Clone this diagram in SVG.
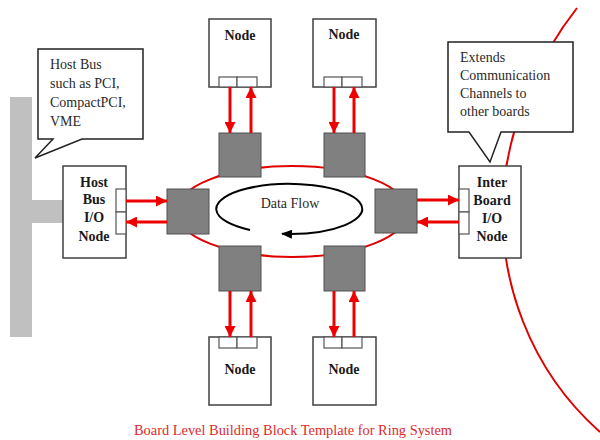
<svg xmlns="http://www.w3.org/2000/svg" width="600" height="440" viewBox="0 0 600 440">
<style>
.box{fill:#fff;stroke:#404040;stroke-width:1.5}
.port{fill:#fff;stroke:#555;stroke-width:1.2}
.sw{fill:#808080;stroke:#505050;stroke-width:1}
.bus{fill:#c0c0c0}
.lbl{font-family:"Liberation Serif","Times New Roman",serif;font-size:14px;font-weight:bold;fill:#1a1a1a;text-anchor:middle}
.note{font-family:"Liberation Serif","Times New Roman",serif;font-size:14px;fill:#2a2a2a}
.arr{stroke:#ee0000;stroke-width:3;fill:none;marker-end:url(#rh)}
.ring{stroke:#e00000;stroke-width:2;fill:none}
.call{fill:#fff;stroke:#222;stroke-width:1.5}
</style>
<defs>
<marker id="rh" markerUnits="userSpaceOnUse" markerWidth="11" markerHeight="11" refX="10" refY="5" orient="auto" viewBox="0 0 10 10">
<path d="M0,0 L10,5 L0,10 z" fill="#ee0000"/>
</marker>
<marker id="bh" markerUnits="userSpaceOnUse" markerWidth="11" markerHeight="9" refX="10" refY="4.5" orient="auto" viewBox="0 0 11 9">
<path d="M0,0 L11,4.5 L0,9 z" fill="#000"/>
</marker>
</defs>
<rect width="600" height="440" fill="#fff"/>

<!-- big red boundary curve -->
<path class="ring" d="M577,8 C540,55 510,120 503,190 C497,280 530,370 600,432"/>

<!-- host bus -->
<g id="hostbus">
<rect class="bus" x="10" y="97" width="22" height="240"/>
<rect class="bus" x="32" y="200" width="31" height="23"/>
</g>

<!-- ring -->
<g id="ring">
<ellipse class="ring" cx="292" cy="211.5" rx="116" ry="45.5"/>
</g>

<!-- data flow -->
<g id="dataflow">
<path d="M250,230 A73,25 0 1 1 282,233.8" fill="none" stroke="#000" stroke-width="2" marker-end="url(#bh)"/>
<text x="290" y="208" font-family="Liberation Serif, Times New Roman, serif" font-size="14" fill="#2a2a2a" text-anchor="middle">Data Flow</text>
</g>

<!-- switches -->
<g id="switches">
<rect id="sw-tl" class="sw" x="219" y="133" width="42" height="44"/>
<rect id="sw-tr" class="sw" x="324" y="133" width="41" height="44"/>
<rect id="sw-l" class="sw" x="167" y="189" width="42" height="45"/>
<rect id="sw-r" class="sw" x="375" y="189" width="42" height="44"/>
<rect id="sw-bl" class="sw" x="219" y="246" width="42" height="45"/>
<rect id="sw-br" class="sw" x="324" y="246" width="41" height="45"/>
</g>

<!-- nodes -->
<g id="node-tl">
<rect class="box" x="209" y="19" width="62" height="68"/>
<rect class="port" x="219" y="77" width="18" height="10"/>
<rect class="port" x="237" y="77" width="20" height="10"/>
<text class="lbl" x="240" y="40">Node</text>
</g>
<g id="node-tr">
<rect class="box" x="313" y="19" width="63" height="68"/>
<rect class="port" x="324" y="77" width="18" height="10"/>
<rect class="port" x="342" y="77" width="20" height="10"/>
<text class="lbl" x="344" y="39">Node</text>
</g>
<g id="node-bl">
<rect class="box" x="209" y="337" width="62" height="68"/>
<rect class="port" x="219" y="337" width="18" height="11"/>
<rect class="port" x="237" y="337" width="20" height="11"/>
<text class="lbl" x="240" y="374">Node</text>
</g>
<g id="node-br">
<rect class="box" x="313" y="337" width="63" height="68"/>
<rect class="port" x="324" y="337" width="18" height="11"/>
<rect class="port" x="342" y="337" width="20" height="11"/>
<text class="lbl" x="344" y="374">Node</text>
</g>
<g id="node-host">
<rect class="box" x="63" y="166" width="63" height="92"/>
<rect class="port" x="116" y="189" width="10" height="23"/>
<rect class="port" x="116" y="212" width="10" height="22"/>
<text class="lbl" x="94" y="187">Host</text>
<text class="lbl" x="94" y="204">Bus</text>
<text class="lbl" x="94" y="222">I/O</text>
<text class="lbl" x="94" y="241">Node</text>
</g>
<g id="node-inter">
<rect class="box" x="459" y="166" width="62" height="92"/>
<rect class="port" x="459" y="189" width="10" height="23"/>
<rect class="port" x="459" y="212" width="10" height="22"/>
<text class="lbl" x="492" y="187">Inter</text>
<text class="lbl" x="492" y="205">Board</text>
<text class="lbl" x="492" y="223">I/O</text>
<text class="lbl" x="492" y="241">Node</text>
</g>

<!-- callouts -->
<g id="callout-host">
<path class="call" d="M38,49 H143 V139 H82 L35,158 L53,139 H38 Z"/>
<text class="note" x="50" y="69">Host Bus</text>
<text class="note" x="50" y="88">such as PCI,</text>
<text class="note" x="50" y="107">CompactPCI,</text>
<text class="note" x="50" y="126">VME</text>
</g>
<g id="callout-inter">
<path class="call" d="M448,42 H573 V132 H501 L490,162 L469,132 H448 Z"/>
<text class="note" x="460" y="62">Extends</text>
<text class="note" x="460" y="80">Communication</text>
<text class="note" x="460" y="98">Channels to</text>
<text class="note" x="460" y="116">other boards</text>
</g>

<!-- connectors -->
<g id="connectors">
<line class="arr" x1="230" y1="87" x2="230" y2="133"/>
<line class="arr" x1="251" y1="133" x2="251" y2="87"/>
<line class="arr" x1="334" y1="87" x2="334" y2="133"/>
<line class="arr" x1="354" y1="133" x2="354" y2="87"/>
<line class="arr" x1="230" y1="291" x2="230" y2="337"/>
<line class="arr" x1="251" y1="337" x2="251" y2="291"/>
<line class="arr" x1="334" y1="291" x2="334" y2="337"/>
<line class="arr" x1="354" y1="337" x2="354" y2="291"/>
<line class="arr" x1="126" y1="201" x2="167" y2="201"/>
<line class="arr" x1="167" y1="222" x2="126" y2="222"/>
<line class="arr" x1="417" y1="200" x2="459" y2="200"/>
<line class="arr" x1="459" y1="222" x2="417" y2="222"/>
</g>

<text x="293" y="435" font-family="Liberation Serif, Times New Roman, serif" font-size="14.4" fill="#dd2a2a" text-anchor="middle">Board Level Building Block Template for Ring System</text>
</svg>
